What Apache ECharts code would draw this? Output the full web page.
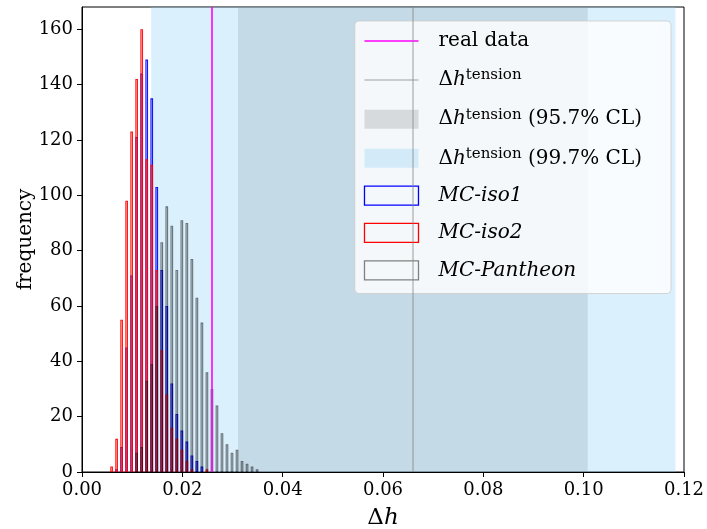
<!DOCTYPE html>
<html>
<head>
<meta charset="utf-8">
<script src="https://cdn.jsdelivr.net/npm/echarts@6/dist/echarts.min.js"></script>
<style>
  html, body { margin: 0; padding: 0; background: #fff; }
  #chart { width: 707px; height: 529px; }
</style>
</head>
<body>
<div id="chart"></div>
<script>
// ---- data ----
const binCenters = [0.0059, 0.0069, 0.0079, 0.0089, 0.0099, 0.0109, 0.0119, 0.0129, 0.0139, 0.0149,
                    0.0159, 0.0169, 0.0179, 0.0189, 0.0199, 0.0209, 0.0219, 0.0229, 0.0239, 0.0249,
                    0.0259, 0.0269, 0.0279, 0.0289, 0.0299, 0.0309, 0.0319, 0.0329, 0.0339, 0.0349];
const iso1Counts = [0, 1, 9, 45, 71, 121, 144, 149, 135, 103,
                    73, 60, 32, 21, 15, 11, 6, 4, 2, 0,
                    0, 0, 0, 0, 0, 0, 0, 0, 0, 0];
const iso2Counts = [2, 12, 55, 98, 123, 142, 160, 113, 111, 73,
                    44, 28, 16, 12, 8, 4, 1, 0, 0, 1,
                    0, 0, 0, 0, 0, 0, 0, 0, 0, 0];
const pantheonCounts = [0, 0, 0, 0, 0, 7, 9, 33, 39, 60,
                        83, 96, 89, 73, 91, 90, 77, 63, 54, 36,
                        30, 24, 14, 10, 7, 8, 4, 3, 2, 1];
const realDataValue = 0.0259;
const tensionValue = 0.0659;
const cl957Range = [0.0311, 0.1008];
const cl997Range = [0.0138, 0.1183];
const xTickValues = [0, 0.02, 0.04, 0.06, 0.08, 0.10, 0.12];
const yTickValues = [0, 20, 40, 60, 80, 100, 120, 140, 160];
const seriesNames = ['real data', 'tension', 'cl957', 'cl997', 'MC-iso1', 'MC-iso2', 'MC-Pantheon'];
const legendLabels = [
  '{n|real data}',
  '{n|Δ}{i|h}{sup|tension}',
  '{n|Δ}{i|h}{sup|tension}{n| (95.7% CL)}',
  '{n|Δ}{i|h}{sup|tension}{n| (99.7% CL)}',
  '{i|MC-iso1}',
  '{i|MC-iso2}',
  '{i|MC-Pantheon}'
];

// ---- styles ----
const FONT = 'DejaVu Serif';
const BAND_GRAY = 'rgba(128,128,128,0.245)';
const BAND_BLUE = 'rgba(135,206,250,0.30)';
const barStyles = {
  'MC-iso1': { color: 'rgba(0,0,255,0.14)', borderColor: 'rgba(0,0,255,0.9)' },
  'MC-iso2': { color: 'rgba(255,0,0,0.14)', borderColor: 'rgba(255,0,0,0.9)' },
  'MC-Pantheon': { color: 'rgba(0,0,0,0.08)', borderColor: 'rgba(0,0,0,0.5)' }
};

function pairs(counts) {
  const out = [];
  counts.forEach((c, i) => { if (c > 0) out.push([binCenters[i], c]); });
  return out;
}

function barSeries(name, counts) {
  return {
    name: name,
    type: 'bar',
    data: pairs(counts),
    barWidth: 2.7,
    barGap: '-100%',
    z: 2,
    itemStyle: {
      color: barStyles[name].color,
      borderColor: barStyles[name].borderColor,
      borderWidth: 1.1
    },
    emphasis: { disabled: true },
    animation: false
  };
}

const legendLabelMap = {};
seriesNames.forEach((n, i) => { legendLabelMap[n] = legendLabels[i]; });

const lineIcon = 'path://M0,0H54V1.5H0Z';
const legendData = [
  { name: 'real data', icon: lineIcon, itemStyle: { color: '#ff00ff', borderWidth: 0 } },
  { name: 'tension', icon: lineIcon, itemStyle: { color: '#bdbdbd', borderWidth: 0 } },
  { name: 'cl957', icon: 'rect', itemStyle: { color: BAND_GRAY, borderWidth: 0 } },
  { name: 'cl997', icon: 'rect', itemStyle: { color: BAND_BLUE, borderWidth: 0 } },
  { name: 'MC-iso1', icon: 'rect', itemStyle: { color: 'rgba(255,255,255,0)', borderColor: '#0000ff', borderWidth: 1.3 } },
  { name: 'MC-iso2', icon: 'rect', itemStyle: { color: 'rgba(255,255,255,0)', borderColor: '#ff0000', borderWidth: 1.3 } },
  { name: 'MC-Pantheon', icon: 'rect', itemStyle: { color: 'rgba(255,255,255,0)', borderColor: '#808080', borderWidth: 1.3 } }
];

const chart = echarts.init(document.getElementById('chart'), null, { renderer: 'canvas' });

const option = {
  animation: false,
  backgroundColor: '#ffffff',
  grid: {
    left: 82, right: 23, top: 7, bottom: 57,
    containLabel: false,
    outerBoundsMode: 'none',
    show: true, borderColor: '#000', borderWidth: 1, backgroundColor: 'transparent'
  },
  legend: {
    data: legendData,
    orient: 'vertical',
    right: 36,
    top: 21,
    itemWidth: 54,
    itemHeight: 19,
    itemGap: 17.1,
    padding: [10, 29, 13, 9],
    backgroundColor: 'rgba(255,255,255,0.8)',
    borderColor: 'rgba(204,204,204,0.8)',
    borderWidth: 1,
    borderRadius: 4,
    selectedMode: false,
    symbolKeepAspect: true,
    formatter: name => legendLabelMap[name],
    textStyle: {
      padding: [0, 0, 0, 15],
      color: '#000',
      rich: {
        n: { fontFamily: FONT, fontSize: 20, lineHeight: 24, color: '#000' },
        i: { fontFamily: FONT, fontSize: 20, lineHeight: 24, fontStyle: 'italic', color: '#000' },
        sup: { fontFamily: FONT, fontSize: 15, lineHeight: 8, verticalAlign: 'top', color: '#000' }
      }
    }
  },
  xAxis: {
    type: 'value',
    min: 0, max: 0.12, interval: 0.02,
    name: '{n|Δ}{i|h}',
    nameLocation: 'middle',
    nameGap: 33,
    nameTextStyle: {
      rich: {
        n: { fontFamily: FONT, fontSize: 23, lineHeight: 26, color: '#000' },
        i: { fontFamily: FONT, fontSize: 23, lineHeight: 26, fontStyle: 'italic', color: '#000' }
      }
    },
    axisLine: { show: true, onZero: false, lineStyle: { color: '#000', width: 1 } },
    axisTick: { show: true, length: 5, lineStyle: { color: '#000', width: 1 } },
    axisLabel: {
      margin: 9, color: '#000', fontFamily: FONT, fontSize: 18,
      customValues: xTickValues,
      formatter: v => v.toFixed(2)
    },
    splitLine: { show: false }
  },
  yAxis: {
    type: 'value',
    min: 0, max: 168,
    name: 'frequency',
    nameLocation: 'middle',
    nameGap: 46,
    nameMoveOverlap: false,
    nameTextStyle: { fontFamily: FONT, fontSize: 20, color: '#000' },
    axisLine: { show: true, onZero: false, lineStyle: { color: '#000', width: 1 } },
    axisTick: { show: true, length: 5, customValues: yTickValues, lineStyle: { color: '#000', width: 1 } },
    axisLabel: {
      margin: 9, color: '#000', fontFamily: FONT, fontSize: 18,
      customValues: yTickValues
    },
    splitLine: { show: false }
  },
  series: [
    {
      name: 'cl957', type: 'line', data: [], z: 1, color: BAND_GRAY,
      silent: true,
      markArea: {
        silent: true,
        itemStyle: { color: BAND_GRAY },
        label: { show: false },
        data: [[{ xAxis: cl957Range[0] }, { xAxis: cl957Range[1] }]]
      }
    },
    {
      name: 'cl997', type: 'line', data: [], z: 1, color: BAND_BLUE,
      silent: true,
      markArea: {
        silent: true,
        itemStyle: { color: BAND_BLUE },
        label: { show: false },
        data: [[{ xAxis: cl997Range[0] }, { xAxis: cl997Range[1] }]]
      }
    },
    barSeries('MC-iso1', iso1Counts),
    barSeries('MC-iso2', iso2Counts),
    barSeries('MC-Pantheon', pantheonCounts),
    {
      name: 'real data', type: 'line', data: [], z: 3, color: '#ff00ff',
      silent: true,
      markLine: {
        silent: true, symbol: ['none', 'none'], precision: 5,
        label: { show: false },
        lineStyle: { color: '#ff00ff', width: 1.6, type: 'solid' },
        data: [{ xAxis: realDataValue }]
      }
    },
    {
      name: 'tension', type: 'line', data: [], z: 3, color: '#bdbdbd',
      silent: true,
      markLine: {
        silent: true, symbol: ['none', 'none'], precision: 5,
        label: { show: false },
        lineStyle: { color: 'rgba(128,128,128,0.5)', width: 1.5, type: 'solid' },
        data: [{ xAxis: tensionValue }]
      }
    }
  ]
};

chart.setOption(option);
</script>
</body>
</html>
